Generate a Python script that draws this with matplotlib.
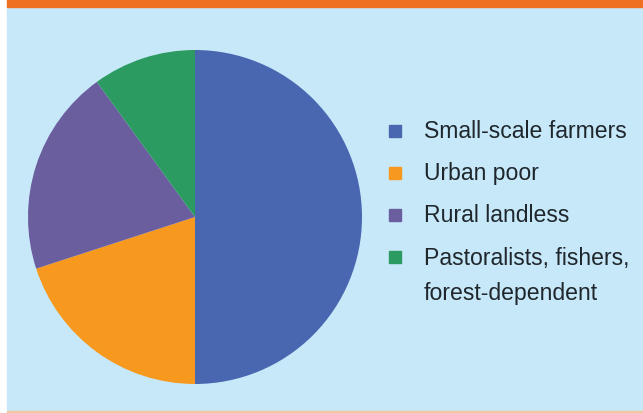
import matplotlib.pyplot as plt
from matplotlib.patches import Rectangle

plt.rcParams['font.family'] = ['Liberation Sans', 'DejaVu Sans']

groups = ["Small-scale farmers", "Urban poor", "Rural landless",
          "Pastoralists, fishers,\nforest-dependent"]
shares = [50, 20, 20, 10]
colors = ["#4967b1", "#f7981f", "#6b5e9f", "#2c9b62"]

W, H = 643, 414
fig = plt.figure(figsize=(W / 100, H / 100), dpi=100)
fig.patch.set_facecolor("white")

# background panel and orange top band
fig.patches.append(Rectangle((7 / W, 3 / H), 1 - 7 / W, 1 - 11 / H,
                             transform=fig.transFigure, color="#c7e8f9", zorder=-2))
fig.patches.append(Rectangle((7 / W, 1 - 8 / H), 1 - 7 / W, 8 / H,
                             transform=fig.transFigure, color="#f07022", zorder=-1))
fig.patches.append(Rectangle((7 / W, 0), 1 - 7 / W, 2 / H,
                             transform=fig.transFigure, color="#f3c8a0", zorder=-1))

# pie
cx, cy, r = 195, 218, 167
ax = fig.add_axes([(cx - r) / W, (H - cy - r) / H, 2 * r / W, 2 * r / H])
ax.set_zorder(5)
ax.patch.set_visible(False)
wedges, _ = ax.pie(shares, colors=colors, startangle=90, counterclock=False,
                   wedgeprops=dict(linewidth=0))
ax.set_xlim(-1, 1)
ax.set_ylim(-1, 1)
ax.set_aspect("auto")
ax.axis("off")

# legend drawn by hand
rows_y = [132, 174, 216, 258]
for lab, col, y in zip(groups, colors, rows_y):
    fig.patches.append(Rectangle(((395 - 6) / W, (H - y - 6) / H), 12 / W, 12 / H,
                                 transform=fig.transFigure, color=col, zorder=2))
    for i, line in enumerate(lab.split("\n")):
        fig.text(424 / W, (H - y - 36 * i) / H, line, fontsize=16.6, color="#1f272c",
                 va="center", transform=fig.transFigure)

fig.savefig("out.png", dpi=100)
